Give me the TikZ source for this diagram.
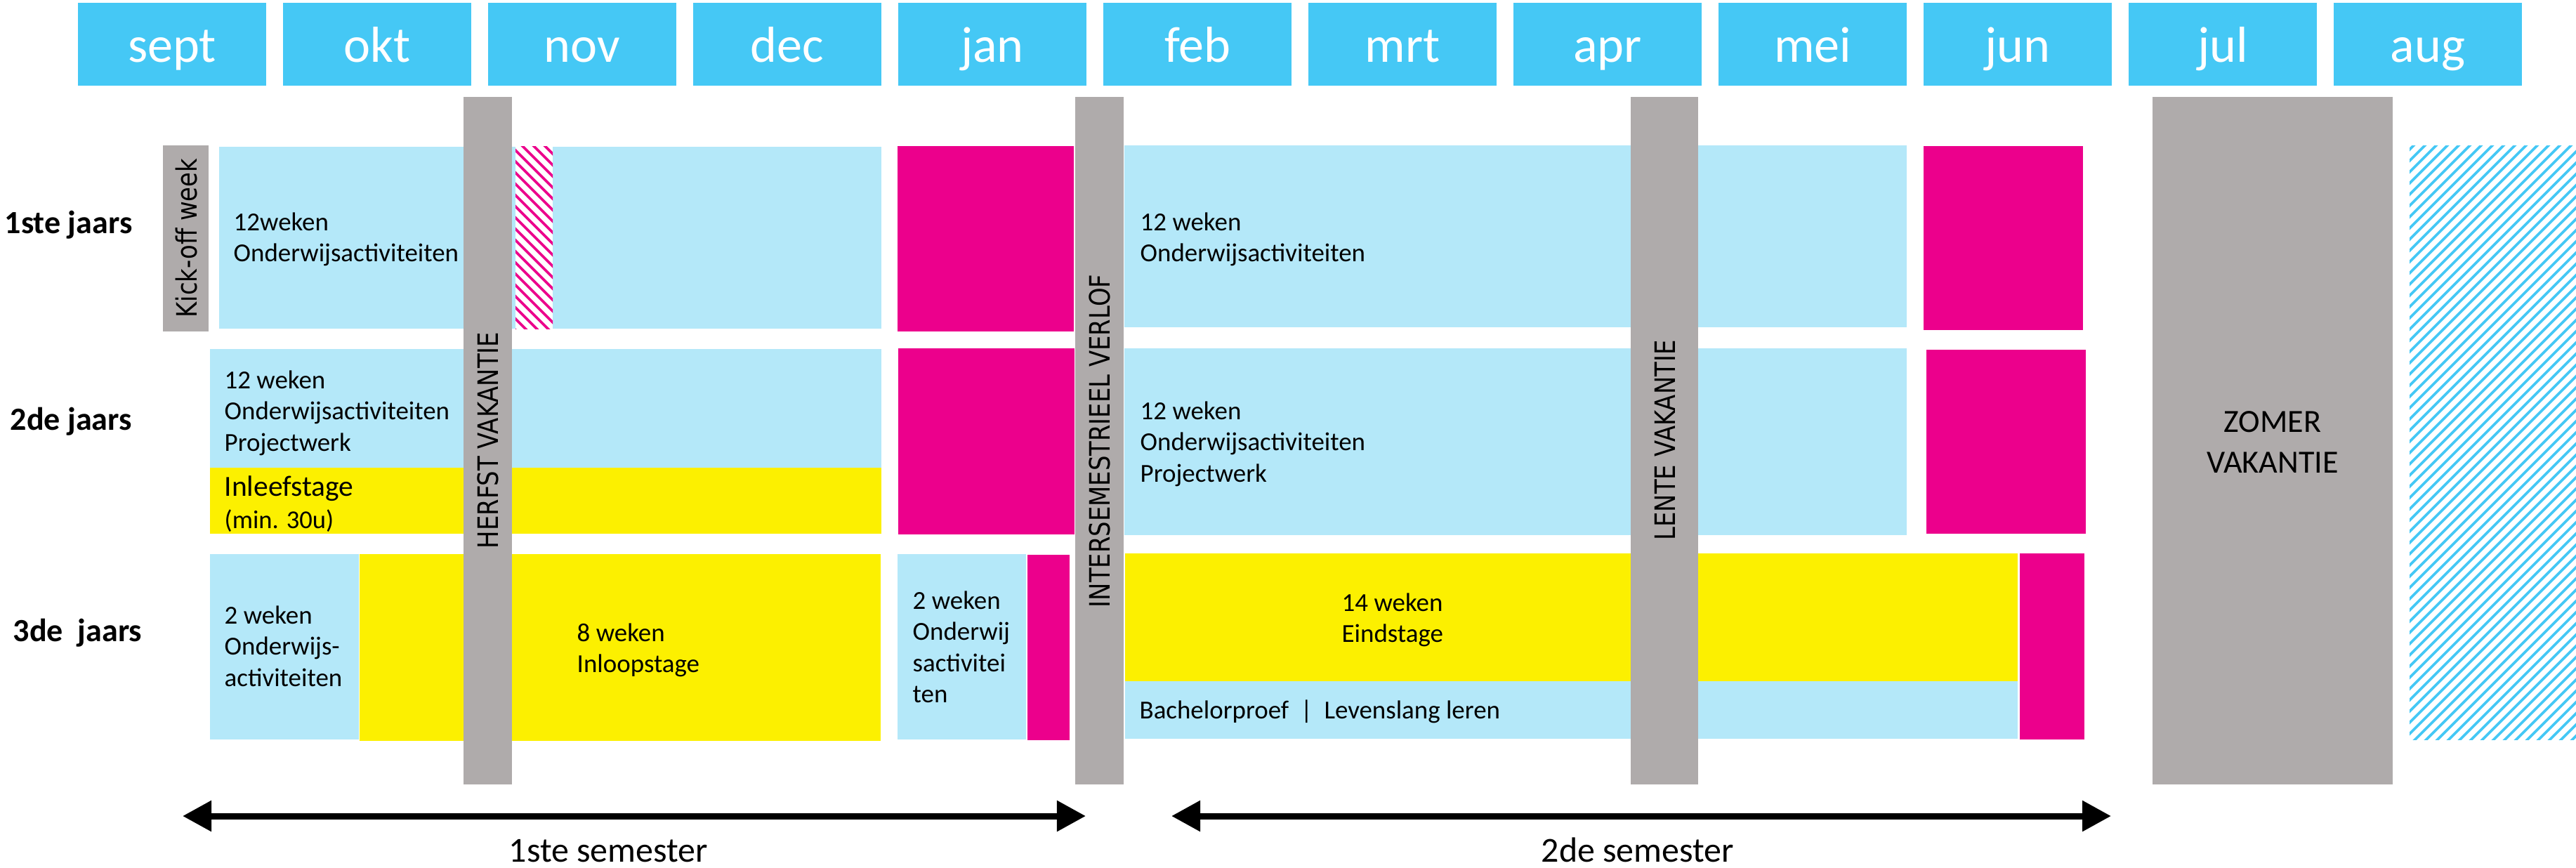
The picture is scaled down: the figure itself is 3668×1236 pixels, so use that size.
\documentclass[tikz,border=0pt]{standalone}
\usepackage{fontspec}
\setmainfont{Carlito}
\newfontfamily\vfont{DejaVu Sans}[FakeStretch=0.845]
\usetikzlibrary{arrows.meta}
\definecolor{monthblue}{HTML}{45C8F5}
\definecolor{lightblue}{HTML}{B4E8F9}
\definecolor{pinkm}{HTML}{EC008C}
\definecolor{yel}{HTML}{FCF000}
\definecolor{grayv}{HTML}{AFABAB}
\newcommand\blocklines[4]{\foreach \t [count=\k from 0] in {#4} {\node[txt] (#1-\k) at ({#2},{#3+44.5*\k}) {\t};}}
\begin{document}
\begin{tikzpicture}[x=0.01cm,y=-0.01cm,
  month/.style={font=\fontsize{20.5}{24}\selectfont, text=white, anchor=base, inner sep=0},
  rowlab/.style={font=\fontsize{13.1}{16}\selectfont\bfseries, anchor=base west, inner sep=0},
  txt/.style={font=\fontsize{10.5}{12.6}\selectfont, anchor=base west, inner sep=0},
  semlab/.style={font=\fontsize{14.2}{17}\selectfont, anchor=base west, inner sep=0},
  vlab/.style={font=\vfont\fontsize{11.4}{13}\selectfont, rotate=90, inner sep=0},
  semarrow/.style={line width=0.09cm, {Triangle[length=0.41cm,width=0.42cm]}-{Triangle[length=0.41cm,width=0.42cm]}},
  hatchline/.style={line width=0.038cm}]
\fill[white] (0,0) rectangle (3668,1236);
\useasboundingbox (0,0) rectangle (3668,1236);
% months
\foreach \m [count=\i from 0] in {sept,okt,nov,dec,jan,feb,mrt,apr,mei,jun,jul,aug} {
  \fill[monthblue] ({111+292*\i},4) rectangle ++(268,118);
  \node[month] (m-\m) at ({245+292*\i},88) {\m};
}
% row 1
\fill[grayv] (232,207) rectangle (297,472);
\fill[lightblue] (312,209) rectangle (1255,468);
\fill[white] (734,208) rectangle (787,468);
\begin{scope}
  \clip (734,208) rectangle (787,468);
  \foreach \s in {400,416,...,800} {\draw[pinkm,hatchline] (\s,200) -- ++(320,320);}
\end{scope}
\fill[pinkm] (1278,208) rectangle (1529,472);
\fill[lightblue] (1601,207) rectangle (2715,466);
\fill[pinkm] (2739,208) rectangle (2966,470);
% august hatch
\begin{scope}
  \clip (3431,207) rectangle (3668,1053);
  \foreach \s in {2520,2536,...,3680} {\draw[monthblue,hatchline] (\s,1060) -- ++(900,-900);}
\end{scope}
% row 2
\fill[lightblue] (299,497) rectangle (1255,666);
\fill[yel] (299,666) rectangle (1255,760);
\fill[pinkm] (1279,496) rectangle (1530,761);
\fill[lightblue] (1601,496) rectangle (2715,762);
\fill[pinkm] (2743,498) rectangle (2970,760);
% row 3
\fill[lightblue] (299,789) rectangle (511,1053);
\fill[yel] (512,789) rectangle (1254,1055);
\fill[lightblue] (1278,789) rectangle (1461,1053);
\fill[pinkm] (1463,790) rectangle (1523,1054);
\fill[yel] (1602,788) rectangle (2873,970);
\fill[lightblue] (1602,970) rectangle (2873,1052);
\fill[pinkm] (2876,788) rectangle (2968,1053);
% vacation bars
\fill[grayv] (660,138) rectangle (729,1117);
\fill[grayv] (1531,138) rectangle (1600,1117);
\fill[grayv] (2322,138) rectangle (2418,1117);
\fill[grayv] (3065,138) rectangle (3407,1117);
% vertical labels
\node[vlab] (kick) at (266,339) {Kick-off week};
\node[vlab] (herfst) at (695,627) {HERFST VAKANTIE};
\node[vlab] (inter) at (1566,628) {INTERSEMESTRIEEL VERLOF};
\node[vlab] (lente) at (2371,627) {LENTE VAKANTIE};
\node[font=\fontsize{13.1}{16}\selectfont, anchor=base, inner sep=0] (zomer1) at (3236,615) {ZOMER};
\node[font=\fontsize{13.1}{16}\selectfont, anchor=base, inner sep=0] (zomer2) at (3236,673) {VAKANTIE};
% row labels
\node[rowlab] (r1) at (6,332) {1ste jaars};
\node[rowlab] (r2) at (14,612) {2de jaars};
\node[rowlab] (r3) at (18,913) {3de\ \ jaars};
% block texts
\blocklines{a}{332}{328}{12weken,Onderwijsactiviteiten}
\blocklines{b}{1623}{328}{12 weken,Onderwijsactiviteiten}
\blocklines{c}{319}{553}{12 weken,Onderwijsactiviteiten,Projectwerk}
\node[font=\fontsize{11.8}{14}\selectfont, anchor=base west, inner sep=0] (inleef) at (319,706) {Inleefstage};
\node[font=\fontsize{10.4}{12}\selectfont, anchor=base west, inner sep=0] (min) at (319,752) {(min. 30u)};
\blocklines{d}{1623}{597}{12 weken,Onderwijsactiviteiten,Projectwerk}
\blocklines{e}{319}{888}{2 weken,Onderwijs-,activiteiten}
\blocklines{f}{821}{913}{8 weken,Inloopstage}
\blocklines{g}{1299}{867}{2 weken,Onderwij,sactivitei,ten}
\blocklines{h}{1910}{870}{14 weken,Eindstage}
\node[txt] (bach) at (1622,1023) {Bachelorproef\ \ |\ \ Levenslang leren};
% semesters
\coordinate (s1l) at (260,1162);
\coordinate (s1r) at (1546,1162);
\coordinate (s2l) at (1668,1162);
\coordinate (s2r) at (3006,1162);
\draw[semarrow] (s1l) -- (s1r);
\draw[semarrow] (s2l) -- (s2r);
\node[semlab] (sem1) at (724,1227) {1ste semester};
\node[semlab] (sem2) at (2194,1227) {2de semester};
\end{tikzpicture}
\end{document}
